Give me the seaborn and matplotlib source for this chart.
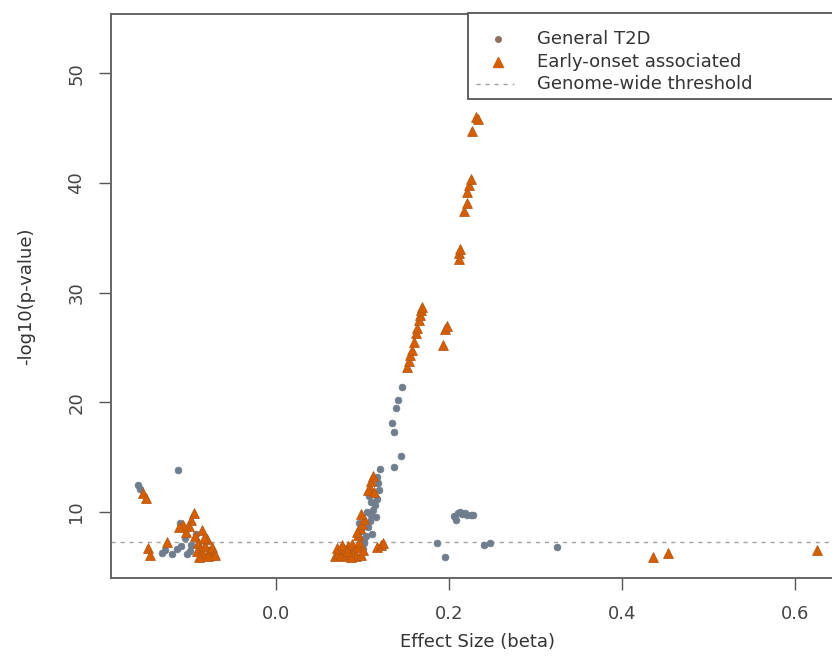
import matplotlib
matplotlib.use("Agg")
import matplotlib.pyplot as plt
import seaborn as sns
import pandas as pd
from matplotlib.lines import Line2D
from matplotlib.patches import Rectangle

# ---- data ----
general_beta = [-0.160, -0.157, -0.114, -0.132, -0.128, -0.111, -0.108, -0.105, -0.110,
                -0.100, -0.098, -0.093, -0.103, -0.115, -0.120,
                0.100, 0.102, 0.104, 0.098, 0.106, 0.108, 0.110, 0.112, 0.114, 0.109,
                0.116, 0.113, 0.118, 0.117, 0.120, 0.096, 0.105, 0.111, 0.115, 0.101,
                0.107, 0.119,
                0.136, 0.144, 0.136, 0.134, 0.138, 0.141, 0.145,
                0.186, 0.195, 0.205, 0.208, 0.210, 0.212, 0.215, 0.218, 0.220, 0.225,
                0.228, 0.240, 0.247, 0.3245]
general_logp = [12.5, 12.1, 13.8, 6.3, 6.5, 9.0, 8.5, 7.6, 6.9,
                6.4, 7.0, 8.0, 6.2, 6.6, 6.2,
                6.6, 7.2, 7.8, 8.3, 8.6, 9.2, 9.7, 10.2, 10.6, 10.9,
                11.2, 11.6, 12.6, 13.2, 13.9, 9.0, 10.0, 8.0, 9.5, 7.5,
                11.5, 12.0,
                14.1, 15.1, 17.3, 18.1, 19.5, 20.2, 21.4,
                7.2, 5.9, 9.6, 9.3, 9.9, 10.0, 9.8, 9.9, 9.75, 9.7,
                9.75, 7.0, 7.2, 6.8]

early_beta = [-0.154, -0.150, -0.148, -0.146, -0.126, -0.0956, -0.098, -0.101, -0.104,
              -0.108, -0.112,
              -0.094, -0.090, -0.088, -0.085, -0.082, -0.080, -0.078, -0.076, -0.074,
              -0.072, -0.086, -0.092, -0.084, -0.079, -0.071, -0.089,
              0.068, 0.072, 0.075, 0.078, 0.080, 0.083, 0.085, 0.088, 0.090, 0.092,
              0.094, 0.096, 0.098, 0.070, 0.076, 0.086, 0.082, 0.100,
              0.095, 0.097, 0.099, 0.093, 0.102, 0.098,
              0.108, 0.110, 0.112, 0.106, 0.113,
              0.117, 0.121, 0.124,
              0.151, 0.153, 0.155, 0.157, 0.159, 0.162, 0.163, 0.165, 0.166, 0.167, 0.168,
              0.193, 0.195, 0.197,
              0.211, 0.211, 0.213, 0.217, 0.220, 0.221, 0.223, 0.225, 0.226, 0.231, 0.233,
              0.4355, 0.4528, 0.625]
early_logp = [11.7, 11.25, 6.7, 6.1, 7.3, 9.9, 9.3, 8.7, 8.2,
              8.8, 8.6,
              7.8, 7.2, 6.6, 6.2, 6.9, 7.5, 6.4, 6.1, 6.8,
              6.3, 8.4, 6.4, 7.6, 6.0, 6.1, 5.9,
              6.0, 6.3, 6.1, 6.6, 6.0, 6.9, 6.2, 7.1, 6.4, 6.0,
              6.8, 7.3, 6.1, 6.7, 7.0, 5.9, 6.4, 6.5,
              7.9, 8.5, 8.9, 8.2, 9.4, 9.8,
              12.2, 12.8, 13.3, 12.0, 11.8,
              6.8, 7.0, 7.2,
              23.2, 23.8, 24.3, 24.8, 25.5, 26.3, 26.8, 27.5, 28.0, 28.4, 28.7,
              25.2, 26.7, 27.0,
              33.6, 33.1, 34.0, 37.4, 38.2, 39.2, 39.8, 40.4, 44.7, 46.0, 45.8,
              5.9, 6.3, 6.5]

threshold = 7.3
x_ticks = [0.0, 0.2, 0.4, 0.6]
y_ticks = [10, 20, 30, 40, 50]
legend_labels = ["General T2D", "Early-onset associated", "Genome-wide threshold"]

grey = "#6f7d8c"
orange = "#d55e00"
dash_col = "#a0a0a0"

df_g = pd.DataFrame({"beta": general_beta, "logp": general_logp})
df_e = pd.DataFrame({"beta": early_beta, "logp": early_logp})

plt.rcParams["font.family"] = ["DejaVu Sans"]
fig = plt.figure(figsize=(8.32, 6.63), dpi=100)
W, H = 832, 663
AX_L, AX_R, AX_T, AX_B = 111, 844, 14, 578
ax = fig.add_axes([AX_L / W, (H - AX_B) / H, (AX_R - AX_L) / W, (AX_B - AX_T) / H])

sns.scatterplot(data=df_g, x="beta", y="logp", color=grey, marker="o", s=24,
                edgecolor=grey, linewidth=0.5, ax=ax, legend=False, zorder=3)
sns.scatterplot(data=df_e, x="beta", y="logp", color=orange, marker="^", s=50,
                edgecolor="#b85a1a", linewidth=0.6, ax=ax, legend=False, zorder=4)
ax.axhline(threshold, color=dash_col, linestyle=(0, (3, 3.5)), linewidth=1.0, zorder=2)

x_left = -0.191
x_right = x_left + (AX_R - AX_L) / 865
ax.set_xlim(x_left, x_right)
ax.set_ylim(3.98, 55.4)
ax.set_xticks(x_ticks)
ax.set_xticklabels([f"{v:.1f}" for v in x_ticks])
ax.set_yticks(y_ticks)
ax.set_yticklabels([str(v) for v in y_ticks], rotation=90, va="center")
ax.tick_params(direction="out", length=8.5, width=1, color="#555555",
               labelcolor="#444444", labelsize=13)
ax.tick_params(axis="x", pad=11)
ax.tick_params(axis="y", pad=10)
for sp in ax.spines.values():
    sp.set_color("#666666")
    sp.set_linewidth(1.4)
ax.set_xlabel("Effect Size (beta)", fontsize=13, color="#333333", labelpad=7)
ax.set_ylabel("-log10(p-value)", fontsize=13, color="#333333", labelpad=23)
ax.grid(False)
ax.set_facecolor("white")

# legend box (drawn manually to reach past the right edge like the reference)
LB_L, LB_T, LB_B = 468, 13, 99
rect = Rectangle((LB_L / W, (H - LB_B) / H), (900 - LB_L) / W, (LB_B - LB_T) / H,
                 transform=fig.transFigure, facecolor="white", edgecolor="#555555",
                 linewidth=1.3, zorder=10, clip_on=False)
fig.patches.append(rect)
rows_y = [39, 62, 84]
fig.add_artist(Line2D([498 / W], [1 - rows_y[0] / H], marker="o", color="#8f6f5f",
                      markersize=4, linestyle="none", transform=fig.transFigure, zorder=11))
fig.add_artist(Line2D([498 / W], [1 - rows_y[1] / H], marker="^", color=orange,
                      markersize=7, linestyle="none", transform=fig.transFigure, zorder=11))
fig.add_artist(Line2D([476 / W, 514 / W], [1 - rows_y[2] / H] * 2, color=dash_col,
                      linestyle=(0, (3, 3.5)), linewidth=1.0, transform=fig.transFigure,
                      zorder=11))
for lab, yy in zip(legend_labels, rows_y):
    fig.text(537 / W, 1 - yy / H, lab, fontsize=13, color="#333333",
             ha="left", va="center", zorder=12)

fig.savefig("out.png", dpi=100)
